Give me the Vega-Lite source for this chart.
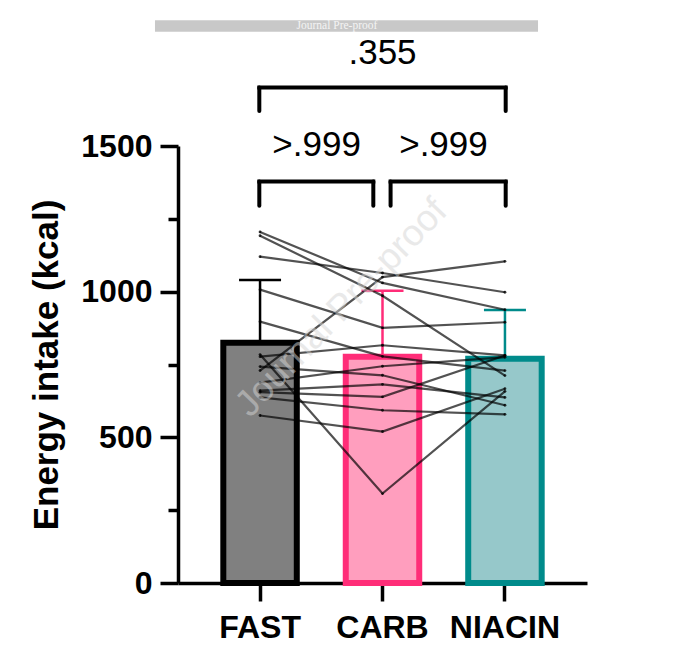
{
  "$schema": "https://vega.github.io/schema/vega-lite/v6.json",
  "width": 409,
  "height": 437,
  "autosize": {"type": "none"},
  "padding": {"left": 178, "top": 146, "right": 99, "bottom": 83},
  "background": "white",
  "config": {
    "view": {"stroke": null},
    "font": "Liberation Sans",
    "scale": {"bandPaddingInner": 0.4, "bandPaddingOuter": 0.37}
  },
  "datasets": {
    "summary": [
      {"condition": "FAST", "mean": 825, "upper": 1040},
      {"condition": "CARB", "mean": 777, "upper": 1003},
      {"condition": "NIACIN", "mean": 770, "upper": 937}
    ],
    "subjects": [
      {"id": 1, "condition": "FAST", "kcal": 1205}, {"id": 1, "condition": "CARB", "kcal": 1030}, {"id": 1, "condition": "NIACIN", "kcal": 938},
      {"id": 2, "condition": "FAST", "kcal": 1192}, {"id": 2, "condition": "CARB", "kcal": 986}, {"id": 2, "condition": "NIACIN", "kcal": 712},
      {"id": 3, "condition": "FAST", "kcal": 1120}, {"id": 3, "condition": "CARB", "kcal": 1064}, {"id": 3, "condition": "NIACIN", "kcal": 998},
      {"id": 4, "condition": "FAST", "kcal": 1007}, {"id": 4, "condition": "CARB", "kcal": 876}, {"id": 4, "condition": "NIACIN", "kcal": 895},
      {"id": 5, "condition": "FAST", "kcal": 897}, {"id": 5, "condition": "CARB", "kcal": 778}, {"id": 5, "condition": "NIACIN", "kcal": 729},
      {"id": 6, "condition": "FAST", "kcal": 784}, {"id": 6, "condition": "CARB", "kcal": 307}, {"id": 6, "condition": "NIACIN", "kcal": 658},
      {"id": 7, "condition": "FAST", "kcal": 777}, {"id": 7, "condition": "CARB", "kcal": 816}, {"id": 7, "condition": "NIACIN", "kcal": 781},
      {"id": 8, "condition": "FAST", "kcal": 743}, {"id": 8, "condition": "CARB", "kcal": 713}, {"id": 8, "condition": "NIACIN", "kcal": 610},
      {"id": 9, "condition": "FAST", "kcal": 729}, {"id": 9, "condition": "CARB", "kcal": 1050}, {"id": 9, "condition": "NIACIN", "kcal": 1104},
      {"id": 10, "condition": "FAST", "kcal": 688}, {"id": 10, "condition": "CARB", "kcal": 744}, {"id": 10, "condition": "NIACIN", "kcal": 775},
      {"id": 11, "condition": "FAST", "kcal": 660}, {"id": 11, "condition": "CARB", "kcal": 682}, {"id": 11, "condition": "NIACIN", "kcal": 637},
      {"id": 12, "condition": "FAST", "kcal": 655}, {"id": 12, "condition": "CARB", "kcal": 639}, {"id": 12, "condition": "NIACIN", "kcal": 781},
      {"id": 13, "condition": "FAST", "kcal": 637}, {"id": 13, "condition": "CARB", "kcal": 593}, {"id": 13, "condition": "NIACIN", "kcal": 579},
      {"id": 14, "condition": "FAST", "kcal": 575}, {"id": 14, "condition": "CARB", "kcal": 520}, {"id": 14, "condition": "NIACIN", "kcal": 667}
    ],
    "brackets": [
      {"left": "FAST", "right": "CARB", "p": ">.999"},
      {"left": "CARB", "right": "NIACIN", "p": ">.999"},
      {"left": "FAST", "right": "NIACIN", "p": ".355"}
    ],
    "notes": [{"label": "Journal Pre-proof"}]
  },
  "resolve": {"axis": {"x": "independent", "y": "independent"}},
  "layer": [
    {
      "data": {"name": "summary"},
      "mark": {"type": "bar", "strokeWidth": 6},
      "encoding": {
        "x": {
          "field": "condition",
          "type": "nominal",
          "scale": {"domain": ["FAST", "CARB", "NIACIN"]},
          "axis": {
            "orient": "bottom",
            "title": null,
            "labelAngle": 0,
            "labelFont": "Liberation Sans",
            "labelFontSize": 32,
            "labelFontWeight": "bold",
            "labelColor": "black",
            "labelPadding": 11,
            "tickSize": 18,
            "tickWidth": 3.5,
            "tickColor": "black",
            "domainWidth": 3.5,
            "domainColor": "black",
            "grid": false
          }
        },
        "y": {
          "field": "mean",
          "type": "quantitative",
          "scale": {"domain": [0, 1500], "nice": false},
          "axis": {
            "orient": "left",
            "values": [0, 500, 1000, 1500],
            "format": "d",
            "title": "Energy intake (kcal)",
            "titleFont": "Liberation Sans",
            "titleFontSize": 35,
            "titleFontWeight": "bold",
            "titleColor": "black",
            "titlePadding": 16,
            "labelFont": "Liberation Sans",
            "labelFontSize": 32,
            "labelFontWeight": "bold",
            "labelColor": "black",
            "labelPadding": 8,
            "labelFlush": false,
            "labelOverlap": false,
            "tickSize": 18,
            "tickWidth": 3.5,
            "tickColor": "black",
            "domainWidth": 3.5,
            "domainColor": "black",
            "grid": false
          }
        },
        "fill": {
          "field": "condition",
          "type": "nominal",
          "scale": {"domain": ["FAST", "CARB", "NIACIN"], "range": ["#808080", "#ff9ebe", "#96c8ca"]},
          "legend": null
        },
        "stroke": {
          "field": "condition",
          "type": "nominal",
          "scale": {"domain": ["FAST", "CARB", "NIACIN"], "range": ["#000000", "#ff2d78", "#008b8b"]},
          "legend": null
        }
      }
    },
    {
      "data": {"name": "summary"},
      "mark": {"type": "rule", "strokeWidth": 2.5},
      "encoding": {
        "x": {"field": "condition", "type": "nominal", "scale": {"domain": ["FAST", "CARB", "NIACIN"]}, "axis": null},
        "y": {
          "field": "mean",
          "type": "quantitative",
          "scale": {"domain": [0, 1500], "nice": false},
          "axis": {
            "orient": "left",
            "values": [250, 750, 1250],
            "labels": false,
            "domain": false,
            "title": null,
            "grid": false,
            "tickSize": 10,
            "tickWidth": 3.5,
            "tickColor": "black"
          }
        },
        "y2": {"field": "upper"},
        "color": {
          "field": "condition",
          "type": "nominal",
          "scale": {"domain": ["FAST", "CARB", "NIACIN"], "range": ["#000000", "#ff2d78", "#008b8b"]},
          "legend": null
        }
      }
    },
    {
      "data": {"name": "summary"},
      "mark": {"type": "tick", "size": 42, "thickness": 2.5, "opacity": 1},
      "encoding": {
        "x": {"field": "condition", "type": "nominal", "scale": {"domain": ["FAST", "CARB", "NIACIN"]}, "axis": null},
        "y": {"field": "upper", "type": "quantitative", "scale": {"domain": [0, 1500], "nice": false}, "axis": null},
        "color": {
          "field": "condition",
          "type": "nominal",
          "scale": {"domain": ["FAST", "CARB", "NIACIN"], "range": ["#000000", "#ff2d78", "#008b8b"]},
          "legend": null
        }
      }
    },
    {
      "data": {"name": "subjects"},
      "mark": {"type": "line", "color": "black", "strokeWidth": 2.2, "opacity": 0.68},
      "encoding": {
        "x": {"field": "condition", "type": "nominal", "scale": {"domain": ["FAST", "CARB", "NIACIN"]}, "axis": null},
        "y": {"field": "kcal", "type": "quantitative", "scale": {"domain": [0, 1500], "nice": false}, "axis": null},
        "detail": {"field": "id", "type": "nominal"},
        "order": {"value": null}
      }
    },
    {
      "data": {"name": "subjects"},
      "mark": {"type": "circle", "color": "black", "size": 8, "opacity": 0.8},
      "encoding": {
        "x": {"field": "condition", "type": "nominal", "scale": {"domain": ["FAST", "CARB", "NIACIN"]}, "axis": null},
        "y": {"field": "kcal", "type": "quantitative", "scale": {"domain": [0, 1500], "nice": false}, "axis": null}
      }
    },
    {
      "data": {"name": "brackets"},
      "transform": [{"filter": "datum.left == 'FAST' && datum.right == 'CARB'"}],
      "layer": [
        {
          "mark": {"type": "rule", "strokeWidth": 4, "color": "black", "strokeCap": "square"},
          "encoding": {
            "x": {"field": "left", "type": "nominal", "bandPosition": 0.49, "scale": {"domain": ["FAST", "CARB", "NIACIN"]}, "axis": null},
            "x2": {"field": "right", "bandPosition": 0.375},
            "y": {"datum": 1378, "type": "quantitative", "scale": {"domain": [0, 1500], "nice": false}, "axis": null}
          }
        },
        {
          "mark": {"type": "rule", "strokeWidth": 4, "color": "black", "strokeCap": "round"},
          "encoding": {
            "x": {"field": "left", "type": "nominal", "bandPosition": 0.49, "scale": {"domain": ["FAST", "CARB", "NIACIN"]}, "axis": null},
            "y": {"datum": 1378, "type": "quantitative", "scale": {"domain": [0, 1500], "nice": false}, "axis": null},
            "y2": {"datum": 1295}
          }
        },
        {
          "mark": {"type": "rule", "strokeWidth": 4, "color": "black", "strokeCap": "round"},
          "encoding": {
            "x": {"field": "right", "type": "nominal", "bandPosition": 0.375, "scale": {"domain": ["FAST", "CARB", "NIACIN"]}, "axis": null},
            "y": {"datum": 1378, "type": "quantitative", "scale": {"domain": [0, 1500], "nice": false}, "axis": null},
            "y2": {"datum": 1295}
          }
        },
        {
          "mark": {"type": "text", "fontSize": 35, "font": "Liberation Sans", "color": "black", "baseline": "middle"},
          "encoding": {
            "x": {"field": "left", "type": "nominal", "bandPosition": 1.27, "scale": {"domain": ["FAST", "CARB", "NIACIN"]}, "axis": null},
            "y": {"datum": 1503, "type": "quantitative", "scale": {"domain": [0, 1500], "nice": false}, "axis": null},
            "text": {"field": "p"}
          }
        }
      ]
    },
    {
      "data": {"name": "brackets"},
      "transform": [{"filter": "datum.left == 'CARB' && datum.right == 'NIACIN'"}],
      "layer": [
        {
          "mark": {"type": "rule", "strokeWidth": 4, "color": "black", "strokeCap": "square"},
          "encoding": {
            "x": {"field": "left", "type": "nominal", "bandPosition": 0.61, "scale": {"domain": ["FAST", "CARB", "NIACIN"]}, "axis": null},
            "x2": {"field": "right", "bandPosition": 0.51},
            "y": {"datum": 1378, "type": "quantitative", "scale": {"domain": [0, 1500], "nice": false}, "axis": null}
          }
        },
        {
          "mark": {"type": "rule", "strokeWidth": 4, "color": "black", "strokeCap": "round"},
          "encoding": {
            "x": {"field": "left", "type": "nominal", "bandPosition": 0.61, "scale": {"domain": ["FAST", "CARB", "NIACIN"]}, "axis": null},
            "y": {"datum": 1378, "type": "quantitative", "scale": {"domain": [0, 1500], "nice": false}, "axis": null},
            "y2": {"datum": 1295}
          }
        },
        {
          "mark": {"type": "rule", "strokeWidth": 4, "color": "black", "strokeCap": "round"},
          "encoding": {
            "x": {"field": "right", "type": "nominal", "bandPosition": 0.51, "scale": {"domain": ["FAST", "CARB", "NIACIN"]}, "axis": null},
            "y": {"datum": 1378, "type": "quantitative", "scale": {"domain": [0, 1500], "nice": false}, "axis": null},
            "y2": {"datum": 1295}
          }
        },
        {
          "mark": {"type": "text", "fontSize": 35, "font": "Liberation Sans", "color": "black", "baseline": "middle"},
          "encoding": {
            "x": {"field": "left", "type": "nominal", "bandPosition": 1.33, "scale": {"domain": ["FAST", "CARB", "NIACIN"]}, "axis": null},
            "y": {"datum": 1503, "type": "quantitative", "scale": {"domain": [0, 1500], "nice": false}, "axis": null},
            "text": {"field": "p"}
          }
        }
      ]
    },
    {
      "data": {"name": "brackets"},
      "transform": [{"filter": "datum.left == 'FAST' && datum.right == 'NIACIN'"}],
      "layer": [
        {
          "mark": {"type": "rule", "strokeWidth": 4, "color": "black", "strokeCap": "square"},
          "encoding": {
            "x": {"field": "left", "type": "nominal", "bandPosition": 0.49, "scale": {"domain": ["FAST", "CARB", "NIACIN"]}, "axis": null},
            "x2": {"field": "right", "bandPosition": 0.51},
            "y": {"datum": 1701, "type": "quantitative", "scale": {"domain": [0, 1500], "nice": false}, "axis": null}
          }
        },
        {
          "mark": {"type": "rule", "strokeWidth": 4, "color": "black", "strokeCap": "round"},
          "encoding": {
            "x": {"field": "left", "type": "nominal", "bandPosition": 0.49, "scale": {"domain": ["FAST", "CARB", "NIACIN"]}, "axis": null},
            "y": {"datum": 1701, "type": "quantitative", "scale": {"domain": [0, 1500], "nice": false}, "axis": null},
            "y2": {"datum": 1620}
          }
        },
        {
          "mark": {"type": "rule", "strokeWidth": 4, "color": "black", "strokeCap": "round"},
          "encoding": {
            "x": {"field": "right", "type": "nominal", "bandPosition": 0.51, "scale": {"domain": ["FAST", "CARB", "NIACIN"]}, "axis": null},
            "y": {"datum": 1701, "type": "quantitative", "scale": {"domain": [0, 1500], "nice": false}, "axis": null},
            "y2": {"datum": 1620}
          }
        },
        {
          "mark": {"type": "text", "fontSize": 35, "font": "Liberation Sans", "color": "black", "baseline": "middle"},
          "encoding": {
            "x": {"datum": "CARB", "type": "nominal", "bandPosition": 0.5, "scale": {"domain": ["FAST", "CARB", "NIACIN"]}, "axis": null},
            "y": {"datum": 1820, "type": "quantitative", "scale": {"domain": [0, 1500], "nice": false}, "axis": null},
            "text": {"field": "p"}
          }
        }
      ]
    },
    {
      "data": {"name": "notes"},
      "mark": {"type": "text", "fontSize": 37, "font": "Liberation Sans", "color": "#d4d4d4", "opacity": 0.5, "angle": -46, "align": "center", "baseline": "middle"},
      "encoding": {
        "x": {"datum": "FAST", "type": "nominal", "bandPosition": 1.61, "scale": {"domain": ["FAST", "CARB", "NIACIN"]}, "axis": null},
        "y": {"datum": 944, "type": "quantitative", "scale": {"domain": [0, 1500], "nice": false}, "axis": null},
        "text": {"field": "label"}
      }
    },
    {
      "data": {"name": "notes"},
      "mark": {"type": "rect", "color": "#c8c8c8"},
      "encoding": {
        "x": {"datum": "FAST", "type": "nominal", "bandPosition": -0.93, "scale": {"domain": ["FAST", "CARB", "NIACIN"]}, "axis": null},
        "x2": {"datum": "NIACIN", "bandPosition": 0.95},
        "y": {"datum": 1932, "type": "quantitative", "scale": {"domain": [0, 1500], "nice": false}, "axis": null},
        "y2": {"datum": 1892}
      }
    },
    {
      "data": {"name": "notes"},
      "mark": {"type": "text", "fontSize": 11.5, "font": "Liberation Serif", "color": "#f4f4f4", "align": "center", "baseline": "middle"},
      "encoding": {
        "x": {"datum": "CARB", "type": "nominal", "bandPosition": -0.12, "scale": {"domain": ["FAST", "CARB", "NIACIN"]}, "axis": null},
        "y": {"datum": 1912, "type": "quantitative", "scale": {"domain": [0, 1500], "nice": false}, "axis": null},
        "text": {"field": "label"}
      }
    }
  ]
}
